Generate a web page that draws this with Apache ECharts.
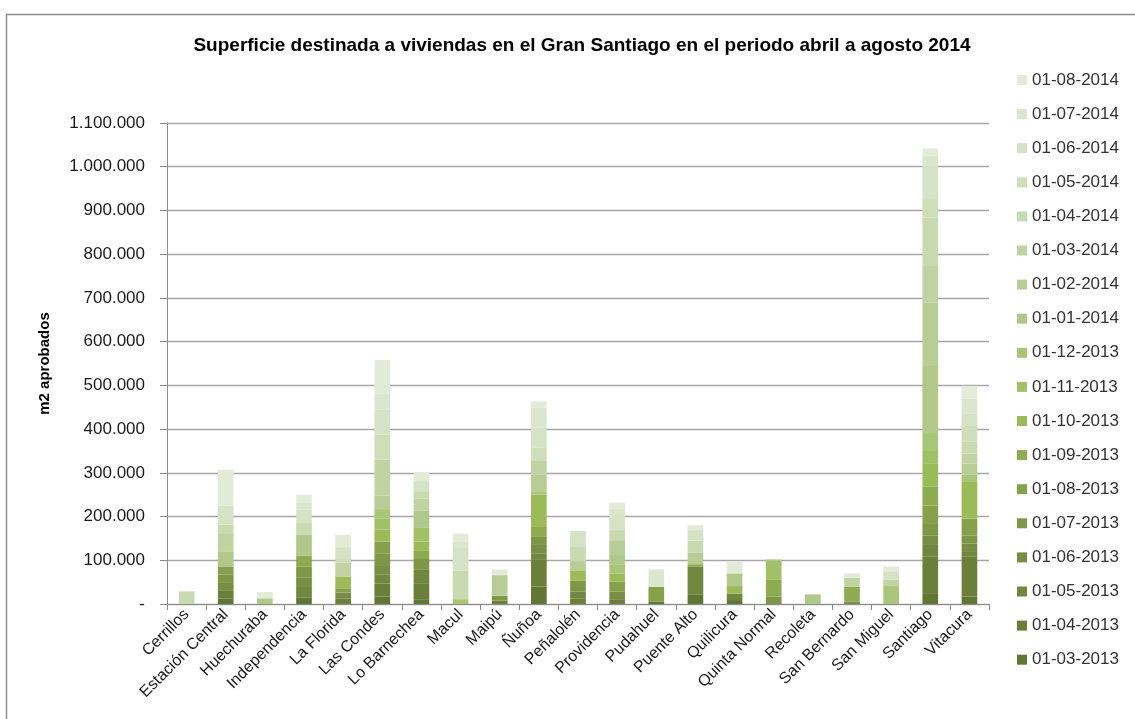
<!DOCTYPE html>
<html>
<head>
<meta charset="utf-8">
<script src="https://cdn.jsdelivr.net/npm/echarts@6/dist/echarts.min.js"></script>
<style>
html,body{margin:0;padding:0;background:#fff;}
#c{width:1135px;height:719px;}
</style>
</head>
<body>
<div id="c"></div>
<script>
const categories = ['Cerrillos','Estación Central','Huechuraba','Independencia','La Florida','Las Condes','Lo Barnechea','Macul','Maipú','Ñuñoa','Peñalolén','Providencia','Pudahuel','Puente Alto','Quilicura','Quinta Normal','Recoleta','San Bernardo','San Miguel','Santiago','Vitacura'];

const seriesNames = ['01-03-2013','01-04-2013','01-05-2013','01-06-2013','01-07-2013','01-08-2013','01-09-2013','01-10-2013','01-11-2013','01-12-2013','01-01-2014','01-02-2014','01-03-2014','01-04-2014','01-05-2014','01-06-2014','01-07-2014','01-08-2014'];

// values in thousands of m2
const s_2013_03 = [0,13,0,15,0,17,11,0,0,40,0,0,5,21,9,0,0,0,0,23,17];
const s_2013_04 = [0,17,0,0,13,30,35,0,8,61,13,11,0,0,0,0,0,0,0,85,91];
const s_2013_05 = [0,0,0,26,0,21,32,0,0,15,15,0,0,65,15,0,0,0,0,27,11];
const s_2013_06 = [0,20,0,20,13,21,0,0,0,21,0,17,0,0,0,0,0,5,0,22,19];
const s_2013_07 = [0,17,0,25,0,27,27,0,11,18,25,0,0,0,0,17,0,0,0,28,19];
const s_2013_08 = [0,19,0,0,10,27,0,0,0,0,0,23,34,0,0,0,0,0,0,40,38];
const s_2013_09 = [0,0,0,25,0,0,18,0,0,23,0,0,0,5,0,38,0,34,0,44,0];
const s_2013_10 = [0,0,0,0,27,27,20,0,0,72,24,18,0,0,17,0,0,0,0,53,84];
const s_2013_11 = [0,0,0,0,0,26,31,0,0,0,0,0,0,0,0,44,0,0,0,30,0];
const s_2013_12 = [0,0,0,0,0,21,0,11,0,8,0,22,0,0,0,0,0,0,41,39,17];
const s_2014_01 = [0,33,13,47,0,0,40,0,0,0,0,21,0,0,29,0,22,0,0,153,0];
const s_2014_02 = [0,0,0,0,0,31,0,0,47,38,21,34,0,27,0,3,0,0,0,145,25];
const s_2014_03 = [0,43,0,0,32,82,27,0,0,31,0,0,0,0,0,0,0,21,15,84,23];
const s_2014_04 = [29,19,0,27,0,0,17,65,0,0,34,23,0,27,0,0,0,0,0,111,27];
const s_2014_05 = [0,0,0,0,10,57,0,0,0,30,0,0,0,0,0,0,0,0,0,42,38];
const s_2014_06 = [0,44,0,31,25,57,23,52,0,46,35,34,0,24,0,0,0,0,19,76,27];
const s_2014_07 = [0,0,0,15,0,38,0,14,0,46,0,15,40,0,0,0,0,0,0,23,34];
const s_2014_08 = [0,82,14,19,28,76,21,19,13,14,0,14,0,11,26,0,0,10,11,17,29];

const seriesValues = [s_2013_03,s_2013_04,s_2013_05,s_2013_06,s_2013_07,s_2013_08,s_2013_09,s_2013_10,s_2013_11,s_2013_12,s_2014_01,s_2014_02,s_2014_03,s_2014_04,s_2014_05,s_2014_06,s_2014_07,s_2014_08];

const colors = ['#617535','#6b7f3a','#718740','#778e44','#7e9747','#86a04c','#8fab52','#9bbb59','#a2c068','#a9c578','#b0c88a','#b8cd96','#c1d3a2','#c9d9b0','#cfddb9','#d6e2c5','#dce6cf','#e3ead8'];

const yTicks = {min:0, max:1100000, interval:100000};

function fmt(v){ if(v===0) return '-'; return String(v).replace(/\B(?=(\d{3})+(?!\d))/g,'.'); }

const FONT = 'Liberation Sans';

const chart = echarts.init(document.getElementById('c'), null, {renderer:'canvas'});
chart.setOption({
  animation:false,
  backgroundColor:'#fff',
  color: colors,
  graphic:[{type:'rect', left:4, top:12, shape:{width:1200,height:800}, style:{fill:'none', stroke:'#8c8c8c', lineWidth:1.5}, silent:true, z:-1}],
  title:{
    text:'Superficie destinada a viviendas en el Gran Santiago en el periodo abril a agosto 2014',
    left:577, top:31, textAlign:'center',
    textStyle:{fontFamily:FONT, fontWeight:'bold', fontSize:19, color:'#000'}
  },
  legend:{
    orient:'vertical', left:1012, top:65,
    data: seriesNames.slice().reverse(),
    icon:'rect', itemWidth:10, itemHeight:10, itemGap:14.1,
    textStyle:{fontFamily:FONT, fontSize:17, color:'#333', lineHeight:20}
  },
  grid:{left:167, right:146, top:123, bottom:115, containLabel:false},
  xAxis:{
    type:'category', data:categories,
    axisLine:{lineStyle:{color:'#8c8c8c', width:1}},
    axisTick:{show:true, interval:0, length:6, lineStyle:{color:'#8c8c8c'}},
    axisLabel:{interval:0, rotate:45, fontFamily:FONT, fontSize:16, color:'#1a1a1a', margin:8}
  },
  yAxis:{
    type:'value', min:yTicks.min, max:yTicks.max, interval:yTicks.interval,
    name:'m2 aprobados', nameLocation:'middle', nameGap:115, nameRotate:90,
    nameTextStyle:{fontFamily:FONT, fontWeight:'bold', fontSize:15, color:'#000'},
    axisLine:{show:true, lineStyle:{color:'#8c8c8c'}},
    axisTick:{show:true, length:7, lineStyle:{color:'#8c8c8c'}},
    splitLine:{lineStyle:{color:'#a6a6a6', width:1.3}},
    axisLabel:{formatter:fmt, fontFamily:FONT, fontSize:17, color:'#1a1a1a', margin:22}
  },
  series: seriesNames.map((n,i)=>({
    name:n, type:'bar', stack:'total', barWidth:'40%',
    data: seriesValues[i].map(v=>v*1000),
    itemStyle:{color:colors[i]}
  }))
});
</script>
</body>
</html>
